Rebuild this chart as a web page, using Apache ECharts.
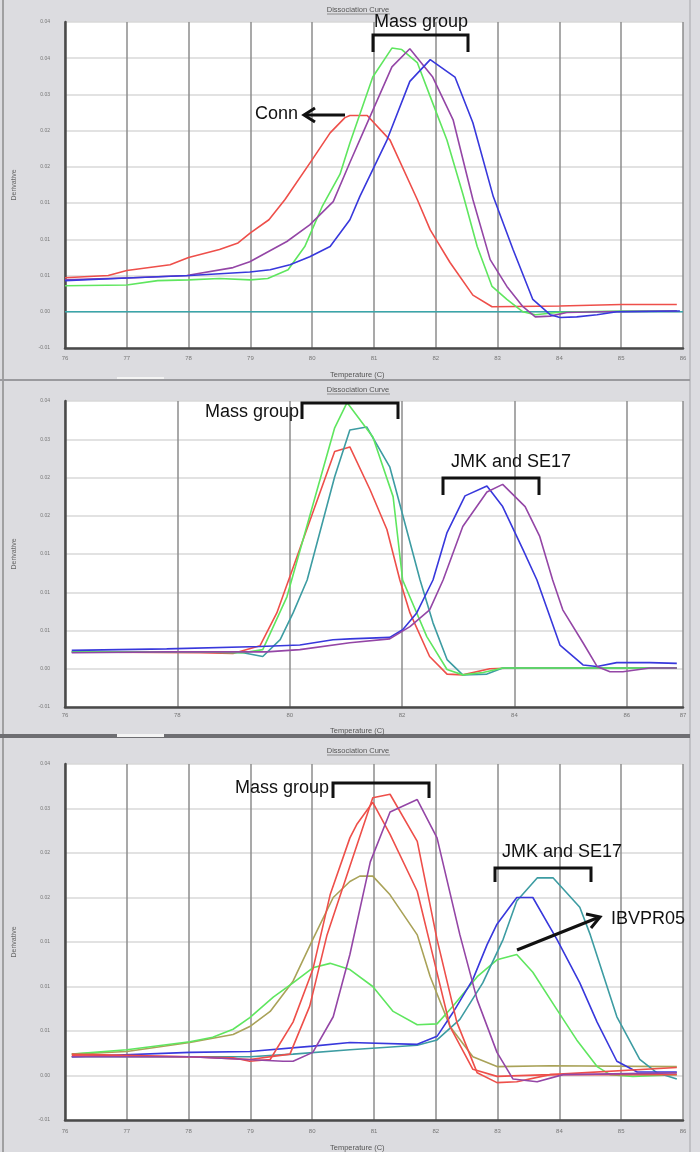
<!DOCTYPE html>
<html>
<head>
<meta charset="utf-8">
<title>Dissociation Curve</title>
<script src="https://cdn.jsdelivr.net/npm/echarts@6/dist/echarts.min.js"></script>
<style>
  html, body { margin: 0; padding: 0; background: #fff; }
  #chart { width: 700px; height: 1152px; }
</style>
</head>
<body>
<div id="chart"></div>
<script>
// y tick labels as the instrument prints them (2 decimals, so steps repeat)
var yLabelsTop = ["-0.01", "0.00", "0.01", "0.01", "0.01", "0.02", "0.02", "0.03", "0.04", "0.04"];
var yLabelsLow = ["-0.01", "0.00", "0.01", "0.01", "0.01", "0.02", "0.02", "0.03", "0.04"];
var yMin = -0.005;
var yStep = 0.005;

// panel 1 : Conn vs Mass group  [temperature, derivative]
var p1Red = [[76.0,0.0047],[76.7,0.0050],[77.0,0.0057],[77.7,0.0065],[78.0,0.0075],[78.5,0.0086],[78.8,0.0095],[79.0,0.0109],[79.3,0.0127],[79.56,0.0155],[80.0,0.0210],[80.29,0.0247],[80.53,0.0268],[80.61,0.0271],[80.89,0.0271],[81.26,0.0237],[81.7,0.0155],[81.91,0.0113],[82.23,0.0068],[82.6,0.0023],[82.91,0.0007],[84.0,0.0008],[85.0,0.0010],[85.9,0.0010]];
var p1Green = [[76.0,0.0036],[77.0,0.0037],[77.5,0.0043],[78.0,0.0044],[78.5,0.0046],[79.0,0.0044],[79.28,0.0046],[79.61,0.0058],[79.88,0.0090],[80.16,0.0145],[80.45,0.0190],[80.61,0.0233],[80.98,0.0324],[81.29,0.0364],[81.45,0.0362],[81.7,0.0344],[81.91,0.0297],[82.18,0.0237],[82.44,0.0162],[82.67,0.0090],[82.91,0.0035],[83.15,0.0017],[83.41,0.0000],[83.61,-0.0004],[83.96,-0.0001],[84.38,0.0000],[85.0,0.0001],[85.9,0.0001]];
var p1Purple = [[76.0,0.0044],[77.1,0.0047],[77.97,0.0050],[78.72,0.0061],[78.99,0.0069],[79.59,0.0097],[79.96,0.0120],[80.34,0.0152],[80.61,0.0206],[80.82,0.0247],[81.29,0.0338],[81.58,0.0363],[81.95,0.0324],[82.28,0.0265],[82.6,0.0155],[82.88,0.0072],[83.15,0.0035],[83.41,0.0007],[83.61,-0.0007],[83.85,-0.0006],[84.12,-0.0001],[84.66,0.0000],[85.9,0.0001]];
var p1Blue = [[76.0,0.0043],[77.1,0.0047],[78.02,0.0050],[78.99,0.0055],[79.32,0.0058],[79.64,0.0065],[79.96,0.0076],[80.29,0.0090],[80.61,0.0127],[80.77,0.0159],[81.21,0.0237],[81.58,0.0318],[81.91,0.0348],[82.31,0.0324],[82.6,0.0261],[82.93,0.0159],[83.25,0.0086],[83.57,0.0017],[83.85,-0.0004],[84.01,-0.0008],[84.28,-0.0007],[84.61,-0.0004],[84.93,0.0000],[85.95,0.0001]];
var p1Flat = [[76,0],[86,0]];

// panel 2 : Mass group vs JMK and SE17
var p2Red = [[76.12,0.0022],[78.4,0.0021],[78.99,0.0020],[79.47,0.0030],[79.77,0.0073],[80.0,0.0120],[80.8,0.0284],[81.07,0.0290],[81.43,0.0234],[81.73,0.0182],[81.96,0.0116],[82.14,0.0073],[82.49,0.0016],[82.8,-0.0007],[83.08,-0.0008],[83.56,0.0000],[83.97,0.0001],[86.89,0.0001]];
var p2Green = [[76.12,0.0022],[78.4,0.0022],[79.17,0.0021],[79.52,0.0025],[79.95,0.0094],[80.8,0.0315],[81.02,0.0348],[81.48,0.0303],[81.84,0.0225],[82.01,0.0116],[82.44,0.0042],[82.8,-0.0001],[83.08,-0.0008],[83.44,-0.0005],[83.79,0.0001],[86.89,0.0001]];
var p2Teal = [[76.12,0.0022],[78.4,0.0022],[79.17,0.0021],[79.52,0.0016],[79.83,0.0038],[80.06,0.0073],[80.31,0.0116],[80.8,0.0251],[81.07,0.0312],[81.37,0.0316],[81.78,0.0264],[82.0,0.0204],[82.32,0.0116],[82.55,0.0060],[82.8,0.0012],[83.08,-0.0008],[83.51,-0.0007],[83.79,0.0001],[86.89,0.0001]];
var p2Blue = [[76.12,0.0024],[77.81,0.0026],[79.47,0.0029],[80.18,0.0031],[80.77,0.0038],[81.07,0.0039],[81.78,0.0041],[82.01,0.0051],[82.26,0.0073],[82.55,0.0116],[82.8,0.0178],[83.12,0.0226],[83.51,0.0239],[83.79,0.0212],[84.15,0.0156],[84.4,0.0116],[84.81,0.0031],[85.22,0.0005],[85.47,0.0003],[85.82,0.0008],[86.41,0.0008],[86.89,0.0007]];
var p2Purple = [[76.12,0.0021],[77.81,0.0022],[79.59,0.0022],[80.18,0.0025],[81.07,0.0034],[81.78,0.0039],[82.14,0.0055],[82.49,0.0077],[82.73,0.0116],[83.08,0.0186],[83.51,0.0231],[83.79,0.0241],[84.19,0.0212],[84.45,0.0173],[84.68,0.0116],[84.86,0.0077],[85.22,0.0034],[85.47,0.0003],[85.7,-0.0004],[85.93,-0.0004],[86.41,0.0001],[86.89,0.0001]];

// panel 3 : Mass group, JMK and SE17, IBVPR05
var p3Green = [[76.11,0.0024],[77.0,0.0029],[78.02,0.0038],[78.39,0.0043],[78.72,0.0052],[78.99,0.0065],[79.37,0.0088],[79.69,0.0104],[80.01,0.0121],[80.29,0.0126],[80.61,0.0119],[80.98,0.0100],[81.31,0.0072],[81.7,0.0057],[82.02,0.0058],[82.28,0.0078],[82.67,0.0111],[82.99,0.0130],[83.31,0.0136],[83.57,0.0116],[83.96,0.0074],[84.28,0.0040],[84.61,0.0010],[84.82,0.0001],[85.19,-0.0001],[85.9,0.0001]];
var p3Olive = [[76.11,0.0024],[77.0,0.0027],[78.02,0.0037],[78.72,0.0046],[78.99,0.0055],[79.32,0.0072],[79.69,0.0106],[80.01,0.0153],[80.34,0.0200],[80.61,0.0218],[80.77,0.0224],[80.98,0.0224],[81.26,0.0203],[81.7,0.0158],[81.91,0.0111],[82.23,0.0055],[82.6,0.0021],[82.99,0.0010],[83.85,0.0011],[85.9,0.0010]];
var p3RedA = [[76.11,0.0024],[78.02,0.0021],[78.72,0.0020],[78.99,0.0016],[79.32,0.0018],[79.69,0.0060],[80.01,0.0119],[80.29,0.0203],[80.61,0.0267],[80.72,0.0282],[80.98,0.0307],[81.26,0.0271],[81.7,0.0207],[81.91,0.0147],[82.23,0.0055],[82.6,0.0007],[82.99,-0.0001],[83.85,0.0001],[85.9,0.0009]];
var p3RedB = [[76.11,0.0022],[78.02,0.0021],[78.99,0.0018],[79.64,0.0024],[79.96,0.0078],[80.24,0.0158],[80.61,0.0235],[80.98,0.0312],[81.26,0.0316],[81.7,0.0263],[82.02,0.0153],[82.34,0.0060],[82.67,0.0003],[82.99,-0.0008],[83.31,-0.0007],[83.85,0.0001],[85.9,0.0001]];
var p3Purple = [[76.11,0.0021],[78.02,0.0021],[79.53,0.0016],[79.69,0.0016],[80.01,0.0026],[80.34,0.0066],[80.61,0.0136],[80.94,0.0240],[81.26,0.0296],[81.7,0.0310],[82.02,0.0267],[82.39,0.0158],[82.67,0.0085],[82.99,0.0026],[83.25,-0.0004],[83.64,-0.0007],[84.06,0.0001],[85.9,0.0003]];
var p3Blue = [[76.11,0.0021],[78.02,0.0026],[78.99,0.0027],[80.01,0.0033],[80.61,0.0037],[81.7,0.0035],[82.02,0.0044],[82.28,0.0071],[82.6,0.0108],[82.83,0.0147],[82.99,0.0170],[83.31,0.0200],[83.57,0.0200],[83.96,0.0153],[84.33,0.0104],[84.61,0.0060],[84.93,0.0016],[85.26,0.0004],[85.9,0.0004]];
var p3Teal = [[76.11,0.0021],[78.02,0.0021],[78.99,0.0021],[79.69,0.0024],[80.61,0.0029],[81.7,0.0034],[82.02,0.0040],[82.39,0.0063],[82.76,0.0104],[83.09,0.0153],[83.31,0.0196],[83.64,0.0222],[83.9,0.0222],[84.33,0.0189],[84.5,0.0158],[84.93,0.0066],[85.3,0.0018],[85.58,0.0003],[85.9,-0.0004]];

var RED = "#ee4f4a", GREEN = "#5fe65f", PURPLE = "#9446a6", BLUE = "#3838dc",
    TEAL = "#3d9ca2", OLIVE = "#a9a258", CYAN = "#3aa6aa";

var myChart = echarts.init(document.getElementById("chart"));

function yFmt(labels) {
  return function (v) {
    var i = Math.round((v - yMin) / yStep);
    return labels[i] !== undefined ? labels[i] : "";
  };
}

function xAxisOf(gi, max, interval, margin) {
  return {
    type: "value", gridIndex: gi, min: 76, max: max, interval: interval,
    axisLine: { show: true, onZero: false, lineStyle: { color: "#4a4a4a", width: 2.5 } },
    axisTick: { show: false },
    axisLabel: { color: "#777", fontSize: 6, margin: margin, fontFamily: "Liberation Sans" },
    splitLine: { show: true, lineStyle: { color: "#8c8c8c", width: 1.5 } }
  };
}

function yAxisOf(gi, max, labels) {
  return {
    type: "value", gridIndex: gi, min: yMin, max: max, interval: yStep,
    name: "Derivative", nameLocation: "middle", nameGap: 47, nameRotate: 90,
    nameTextStyle: { color: "#666", fontSize: 7, fontFamily: "Liberation Sans" },
    axisLine: { show: true, lineStyle: { color: "#4a4a4a", width: 2.5 } },
    axisTick: { show: false },
    axisLabel: { color: "#777", fontSize: 5, margin: 15, formatter: yFmt(labels), fontFamily: "Liberation Sans" },
    splitLine: { show: true, lineStyle: { color: "#d8d8d8", width: 1.5 } }
  };
}

function line(gi, data, color, name) {
  return {
    name: name, type: "line", xAxisIndex: gi, yAxisIndex: gi, data: data,
    showSymbol: false, smooth: false, animation: false,
    lineStyle: { color: color, width: 1.6 }
  };
}

var annoFont = "Liberation Sans";
function txt(x, y, s, size, align, color) {
  return { type: "text", x: x, y: y, z: 50,
    style: { text: s, fontSize: size, fontFamily: annoFont, fill: color || "#111",
             align: align || "left", verticalAlign: "middle" } };
}
function bracket(x1, x2, y, drop) {
  return { type: "polyline", z: 50,
    shape: { points: [[x1, y + drop], [x1, y], [x2, y], [x2, y + drop]] },
    style: { stroke: "#111", lineWidth: 3, fill: null } };
}
function seg(x1, y1, x2, y2, color, w, z) {
  return { type: "line", z: z === undefined ? 50 : z,
    shape: { x1: x1, y1: y1, x2: x2, y2: y2 },
    style: { stroke: color, lineWidth: w } };
}

var option = {
  animation: false,
  grid: [
    { left: 65, top: 22, width: 618, height: 326, show: true, backgroundColor: "#fff", borderWidth: 0 },
    { left: 65, top: 401, width: 618, height: 306, show: true, backgroundColor: "#fff", borderWidth: 0 },
    { left: 65, top: 764, width: 618, height: 356, show: true, backgroundColor: "#fff", borderWidth: 0 }
  ],
  xAxis: [ xAxisOf(0, 86, 1, 7), xAxisOf(1, 87, 2, 5), xAxisOf(2, 86, 1, 8) ],
  yAxis: [ yAxisOf(0, 0.04, yLabelsTop), yAxisOf(1, 0.035, yLabelsLow), yAxisOf(2, 0.035, yLabelsLow) ],
  series: [
    line(0, p1Flat, CYAN, "baseline"),
    line(0, p1Red, RED, "Conn"),
    line(0, p1Green, GREEN, "Mass 1"),
    line(0, p1Purple, PURPLE, "Mass 2"),
    line(0, p1Blue, BLUE, "Mass 3"),

    line(1, p2Red, RED, "Mass 1"),
    line(1, p2Teal, TEAL, "Mass 2"),
    line(1, p2Green, GREEN, "Mass 3"),
    line(1, p2Blue, BLUE, "JMK"),
    line(1, p2Purple, PURPLE, "SE17"),

    line(2, p3Olive, OLIVE, "Mass 1"),
    line(2, p3Green, GREEN, "IBVPR05"),
    line(2, p3Teal, TEAL, "SE17"),
    line(2, p3Blue, BLUE, "JMK"),
    line(2, p3RedA, RED, "Mass 2"),
    line(2, p3RedB, RED, "Mass 3"),
    line(2, p3Purple, PURPLE, "Mass 4")
  ],
  graphic: [
    // window chrome
    { type: "rect", z: -10, shape: { x: 0, y: 0, width: 700, height: 1152 }, style: { fill: "#dcdce0" } },
    seg(3, 0, 3, 1152, "#8d8d8d", 1.5, -5),
    seg(690, 0, 690, 1152, "#b9b9bd", 1.5, -5),
    seg(0, 380, 690, 380, "#9a9a9e", 2, -5),
    { type: "rect", z: -5, shape: { x: 0, y: 734, width: 690, height: 4 }, style: { fill: "#6e6e72" } },
    { type: "rect", z: -4, shape: { x: 117, y: 734, width: 47, height: 3 }, style: { fill: "#f4f4f4" } },
    { type: "rect", z: -4, shape: { x: 117, y: 377, width: 47, height: 2 }, style: { fill: "#f4f4f4" } },

    // panel titles / axis titles
    txt(358, 10, "Dissociation Curve", 7.5, "center", "#555"),
    seg(327, 14, 390, 14, "#777", 0.8, 10),
    txt(358, 390, "Dissociation Curve", 7.5, "center", "#555"),
    seg(327, 394, 390, 394, "#777", 0.8, 10),
    txt(358, 751, "Dissociation Curve", 7.5, "center", "#555"),
    seg(327, 755, 390, 755, "#777", 0.8, 10),
    txt(330, 375, "Temperature (C)", 7.5, "left", "#555"),
    txt(330, 731, "Temperature (C)", 7.5, "left", "#555"),
    txt(330, 1148, "Temperature (C)", 7.5, "left", "#555"),

    // panel 1 notes
    txt(374, 22, "Mass group", 18),
    bracket(373, 468, 35, 17),
    txt(255, 114, "Conn", 18),
    seg(345, 115, 306, 115, "#111", 3),
    { type: "polyline", z: 50, shape: { points: [[315, 108], [304, 115], [315, 122]] },
      style: { stroke: "#111", lineWidth: 3, fill: null } },

    // panel 2 notes
    txt(205, 412, "Mass group", 18),
    bracket(302, 398, 403, 16),
    txt(451, 462, "JMK and SE17", 18),
    bracket(443, 539, 478, 17),

    // panel 3 notes
    txt(235, 788, "Mass group", 18),
    bracket(333, 429, 783, 15),
    txt(502, 852, "JMK and SE17", 18),
    bracket(495, 591, 868, 14),
    txt(611, 919, "IBVPR05", 18),
    seg(517, 950, 597, 918, "#111", 3),
    { type: "polyline", z: 50, shape: { points: [[586, 914], [600, 917], [591, 928]] },
      style: { stroke: "#111", lineWidth: 3, fill: null } }
  ]
};

myChart.setOption(option);
</script>
</body>
</html>
